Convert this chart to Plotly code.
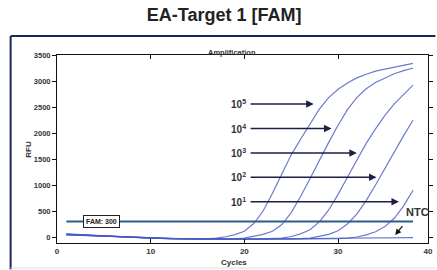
import plotly.graph_objects as go

# ---------------- data ----------------
cycles = list(range(1, 39))

rfu_1e5 = [55, 45, 35, 25, 15, 5, -5, -12, -18, -24, -28, -32, -35, -38, -40, -35, -20, 5, 45, 110,
           260, 500, 840, 1200, 1580, 1880, 2170, 2460, 2680, 2840, 2960, 3060, 3130, 3190, 3230, 3270, 3310, 3340]
rfu_1e4 = [60, 50, 40, 30, 20, 10, 0, -8, -15, -20, -25, -30, -33, -36, -38, -40, -40, -40, -35, -20,
           10, 50, 110, 240, 470, 780, 1120, 1480, 1820, 2150, 2450, 2680, 2850, 2970, 3060, 3140, 3200, 3250]
rfu_1e3 = [45, 38, 30, 22, 14, 6, -2, -10, -16, -22, -27, -31, -34, -37, -39, -40, -40, -40, -40, -40,
           -38, -35, -30, -20, 10, 60, 140, 290, 520, 820, 1150, 1480, 1800, 2080, 2340, 2560, 2750, 2920]
rfu_1e2 = [50, 42, 34, 26, 18, 10, 2, -6, -13, -19, -24, -29, -32, -35, -37, -38, -39, -40, -40, -40,
           -40, -40, -40, -38, -35, -30, -20, 10, 50, 120, 250, 440, 700, 1000, 1320, 1640, 1950, 2245]
rfu_1e1 = [40, 33, 26, 19, 12, 5, -2, -9, -15, -20, -25, -29, -32, -34, -36, -37, -38, -39, -40, -40,
           -40, -40, -40, -40, -40, -40, -40, -38, -35, -30, -20, 0, 40, 100, 200, 360, 600, 900]
rfu_ntc = [45, 37, 29, 21, 13, 5, -3, -10, -16, -21, -25, -29, -32, -34, -36, -37, -38, -38, -38, -38,
           -38, -37, -36, -35, -34, -33, -32, -31, -30, -28, -26, -24, -22, -20, -18, -15, -12, -10]

series = [rfu_1e5, rfu_1e4, rfu_1e3, rfu_1e2, rfu_1e1, rfu_ntc]

threshold = 300
threshold_label = "FAM: 300"
threshold_cycles = [1, 38]

dilution_labels = ["10<sup>5</sup>", "10<sup>4</sup>", "10<sup>3</sup>", "10<sup>2</sup>", "10<sup>1</sup>"]
arrow_rows = [2560, 2085, 1615, 1150, 680]
arrow_tips = [27.4, 29.3, 32.0, 34.1, 36.5]
arrow_start = 20.5

x_tickvals = [0, 10, 20, 30, 39.6]
x_ticktext = ["0", "10", "20", "30", "40"]
y_tickvals = [0, 500, 1000, 1500, 2000, 2500, 3000, 3500]

# ---------------- figure ----------------
FONT = "Liberation Sans, Arial, sans-serif"
curve_color = "rgba(70,90,195,0.8)"
dark = "#1b2145"

fig = go.Figure()
for s in series:
    fig.add_trace(go.Scatter(x=cycles, y=s, mode="lines",
                             line=dict(color=curve_color, width=1.2),
                             showlegend=False, hoverinfo="skip"))

fig.add_trace(go.Scatter(x=threshold_cycles, y=[threshold, threshold], mode="lines",
                         line=dict(color="#2b5d8c", width=2), showlegend=False, hoverinfo="skip"))

ann = []
# threshold label box
ann.append(dict(x=4.7, y=threshold, xref="x", yref="y", text="<b>" + threshold_label + "</b>",
                showarrow=False, font=dict(family=FONT, size=7, color="#222"),
                bgcolor="white", bordercolor="#222", borderwidth=1, borderpad=2))

for lab, row, tip in zip(dilution_labels, arrow_rows, arrow_tips):
    ann.append(dict(x=tip, y=row, xref="x", yref="y", ax=arrow_start, ay=row,
                    axref="x", ayref="y", text="", showarrow=True,
                    arrowhead=2, arrowsize=1, arrowwidth=1.5, arrowcolor=dark))
    ann.append(dict(x=arrow_start - 0.15, y=row, xref="x", yref="y", text="<b>" + lab + "</b>",
                    showarrow=False, xanchor="right", yanchor="middle",
                    font=dict(family=FONT, size=10, color="#333")))

# NTC
ann.append(dict(x=36.1, y=40, xref="x", yref="y", ax=37.0, ay=240, axref="x", ayref="y",
                text="", showarrow=True, arrowhead=2, arrowsize=1, arrowwidth=1.2, arrowcolor="#111"))
ann.append(dict(x=38.5, y=490, xref="x", yref="y", text="<b>NTC</b>", showarrow=False,
                font=dict(family=FONT, size=11, color="#333")))

# titles
ann.append(dict(x=0.473, y=1.046, xref="paper", yref="paper", text="<b>Amplification</b>",
                showarrow=False, font=dict(family=FONT, size=7.5, color="#333")))
ann.append(dict(x=-0.0965, y=0.5, xref="paper", yref="paper", text="<b>RFU</b>", textangle=-90,
                showarrow=False, font=dict(family=FONT, size=8, color="#333")))
ann.append(dict(x=0.476, y=-0.105, xref="paper", yref="paper", text="<b>Cycles</b>",
                showarrow=False, yanchor="middle", font=dict(family=FONT, size=8, color="#333")))

shapes = [
    dict(type="line", xref="paper", yref="paper", x0=-0.125, x1=-0.125, y0=1.101, y1=-0.14,
         line=dict(color="#1b2755", width=2)),
    dict(type="line", xref="paper", yref="paper", x0=-0.125, x1=1.02, y0=1.101, y1=1.101,
         line=dict(color="#1b2755", width=2)),
    dict(type="line", xref="paper", yref="paper", x0=-0.125, x1=1.02, y0=-0.133, y1=-0.133,
         line=dict(color="#dddddd", width=1)),
]

fig.update_layout(
    width=437, height=270,
    margin=dict(l=57, r=4, t=55, b=27),
    paper_bgcolor="white", plot_bgcolor="white",
    title=dict(text="<b>EA-Target 1 [FAM]</b>", x=0.513, xanchor="center", y=0.944, yanchor="middle",
               font=dict(family=FONT, size=18, color="#222")),
    annotations=ann, shapes=shapes,
    xaxis=dict(range=[0, 39.6], tickvals=x_tickvals, ticktext=x_ticktext,
               ticks="inside", ticklen=4, tickcolor="#111", mirror="allticks",
               showline=True, linecolor="#111", linewidth=1, showgrid=False, zeroline=False,
               tickfont=dict(family=FONT, size=8, color="#333", weight="bold")),
    yaxis=dict(range=[-115, 3500], tickvals=y_tickvals,
               ticks="outside", ticklen=4, tickcolor="#111", mirror="allticks",
               showline=True, linecolor="#111", linewidth=1, showgrid=False, zeroline=False,
               tickfont=dict(family=FONT, size=7.5, color="#333", weight="bold")),
)

fig.write_html("out.html", config={"displayModeBar": False},
               post_script="document.body.style.margin='0';document.body.style.overflow='hidden';")
